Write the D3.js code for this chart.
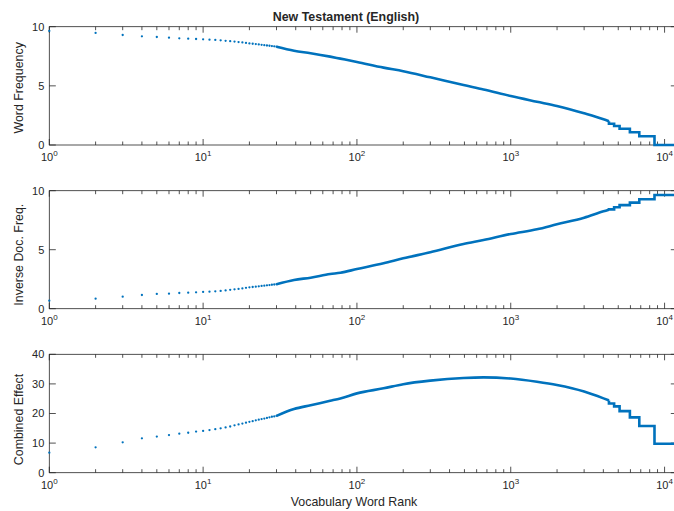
<!DOCTYPE html>
<html><head><meta charset="utf-8">
<script src="https://cdn.jsdelivr.net/npm/d3@7"></script>
<style>
body{margin:0;background:#fff}
svg{display:block}
text{font-family:"Liberation Sans",Arial,Helvetica,sans-serif;fill:#262626}
</style>
</head><body><svg id="c" width="674" height="511"></svg>
<script>
// ---- data ----
const dotRanks = [1,2,3,4,5,6,7,8,9,10,11,12,13,14,15,16,17,18,19,20,21,22,23,24,25,26,27,28,29,30];
const freqDots = [9.64,9.47,9.30,9.19,9.13,9.07,9.02,8.99,8.96,8.93,8.90,8.88,8.85,8.81,8.78,8.74,8.70,8.67,8.63,8.59,8.56,8.53,8.50,8.47,8.44,8.41,8.39,8.36,8.34,8.31];
const idfDots  = [0.68,0.85,1.02,1.16,1.25,1.27,1.33,1.36,1.39,1.42,1.44,1.47,1.51,1.55,1.60,1.64,1.68,1.72,1.77,1.81,1.84,1.87,1.90,1.93,1.95,1.98,2.00,2.03,2.05,2.07];
const combDots = [6.76,8.57,10.26,11.6,12.2,12.7,13.2,13.5,13.9,14.1,14.4,14.7,15.0,15.3,15.6,16.0,16.3,16.6,16.9,17.2,17.4,17.7,17.9,18.1,18.3,18.5,18.7,18.9,19.0,19.2];

const curveRanks = [30,39,50,67,78,100,149,200,300,493,665,1000,1480,1995,3000,4010,4350];
const freqCurve  = [8.31,7.97,7.76,7.47,7.30,7.02,6.54,6.24,5.72,5.07,4.70,4.14,3.66,3.30,2.68,2.17,2.00];
const idfCurve   = [2.07,2.43,2.63,2.94,3.05,3.36,3.85,4.27,4.78,5.48,5.82,6.33,6.73,7.15,7.71,8.25,8.38];
const combCurve  = [19.2,21.5,22.8,24.3,25.1,26.8,28.5,29.9,31.1,32.0,32.2,31.8,30.7,29.6,27.4,25.1,24.4];

const stepRanks = [4350,4700,5100,5950,6850,8600];
const freqSteps = [1.80,1.60,1.38,1.08,0.74,0];
const idfSteps  = [8.42,8.60,8.78,8.99,9.27,9.64];
const combSteps = [23.4,22.4,20.8,18.7,15.8,9.8];
const maxRank = 12100;

const xTickValues = [1,10,100,1000,10000];
const xTickExp = ["0","1","2","3","4"];

const panels = [
  {label:"Word Frequency", top:26.7, bottom:145, ymax:10, yticks:[0,5,10], dots:freqDots, curve:freqCurve, steps:freqSteps, labelDy:2},
  {label:"Inverse Doc. Freq.", top:190.7, bottom:308.7, ymax:10, yticks:[0,5,10], dots:idfDots, curve:idfCurve, steps:idfSteps, labelDy:5},
  {label:"Combined Effect", top:354.3, bottom:472.7, ymax:40, yticks:[0,10,20,30,40], dots:combDots, curve:combCurve, steps:combSteps, labelDy:6}
];

const svg = d3.select("#c");
const left = 49.3, right = 677.3;
const color = "#0072BD", axc = "#262626";
const x = d3.scaleLog().domain([1, maxRank]).range([left, right]);
const minor = x.ticks().filter(v => xTickValues.indexOf(v) < 0);

svg.append("text").attr("x",346).attr("y",20.5).attr("text-anchor","middle")
  .style("font-size","12.4px").style("font-weight","bold").text("New Testament (English)");

panels.forEach(p => {
  const y = d3.scaleLinear().domain([0, p.ymax]).range([p.bottom, p.top]);
  const g = svg.append("g");
  g.append("rect").attr("x",left).attr("y",p.top).attr("width",right-left).attr("height",p.bottom-p.top)
    .attr("fill","none").attr("stroke",axc).attr("stroke-width",0.8);
  xTickValues.forEach(v => {
    g.append("line").attr("x1",x(v)).attr("x2",x(v)).attr("y1",p.bottom).attr("y2",p.bottom-6).attr("stroke",axc).attr("stroke-width",0.8);
    g.append("line").attr("x1",x(v)).attr("x2",x(v)).attr("y1",p.top).attr("y2",p.top+6).attr("stroke",axc).attr("stroke-width",0.8);
  });
  minor.forEach(v => {
    g.append("line").attr("x1",x(v)).attr("x2",x(v)).attr("y1",p.bottom).attr("y2",p.bottom-3.5).attr("stroke",axc).attr("stroke-width",0.8);
    g.append("line").attr("x1",x(v)).attr("x2",x(v)).attr("y1",p.top).attr("y2",p.top+3.5).attr("stroke",axc).attr("stroke-width",0.8);
  });
  xTickValues.forEach((v,i) => {
    const t = g.append("text").attr("x",x(v)).attr("y",p.bottom+16).attr("text-anchor","middle").style("font-size","11px");
    t.append("tspan").text("10");
    t.append("tspan").attr("dy",-5).style("font-size","8px").text(xTickExp[i]);
  });
  p.yticks.forEach(v => {
    g.append("line").attr("x1",left).attr("x2",left+6.5).attr("y1",y(v)).attr("y2",y(v)).attr("stroke",axc).attr("stroke-width",0.8);
    g.append("line").attr("x1",right).attr("x2",right-6.5).attr("y1",y(v)).attr("y2",y(v)).attr("stroke",axc).attr("stroke-width",0.8);
    g.append("text").attr("x",left-5).attr("y",y(v)).attr("dy","0.36em").attr("text-anchor","end").style("font-size","11px").text(v);
  });
  const cy = (p.top+p.bottom)/2 + p.labelDy;
  g.append("text").attr("transform",`translate(23,${cy}) rotate(-90)`).attr("text-anchor","middle")
    .style("font-size","12.4px").text(p.label);
  // dense (smooth) part
  const dense = curveRanks.map((r,i) => [r, p.curve[i]]);
  g.append("path").attr("d", d3.line().x(d => x(d[0])).y(d => y(d[1])).curve(d3.curveMonotoneX)(dense))
    .attr("fill","none").attr("stroke",color).attr("stroke-width",2.6).attr("stroke-linejoin","round");
  // stair-step tail
  const pts = [dense[dense.length-1]];
  stepRanks.forEach((r,i) => {
    const end = i < stepRanks.length-1 ? stepRanks[i+1] : maxRank;
    pts.push([r, p.steps[i]]);
    pts.push([end, p.steps[i]]);
  });
  g.append("path").attr("d", d3.line().x(d => x(d[0])).y(d => y(d[1]))(pts))
    .attr("fill","none").attr("stroke",color).attr("stroke-width",2.6);
  g.selectAll("circle").data(dotRanks).join("circle")
    .attr("cx", r => x(r)).attr("cy", (r,i) => y(p.dots[i])).attr("r",1.15).attr("fill",color);
});

svg.append("text").attr("x",354).attr("y",506).attr("text-anchor","middle")
  .style("font-size","12.4px").text("Vocabulary Word Rank");
</script>
</body></html>
